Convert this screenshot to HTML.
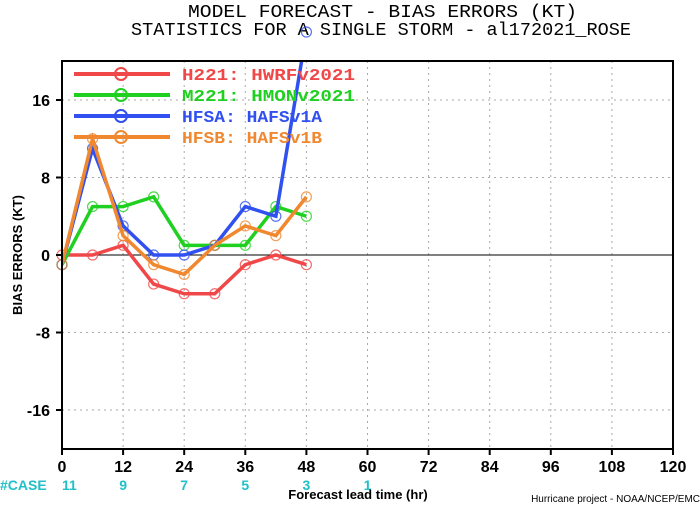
<!DOCTYPE html>
<html><head><meta charset="utf-8"><style>
body{margin:0;background:#fff;}
svg text{font-family:"Liberation Sans",sans-serif;font-weight:bold;}
</style></head><body>
<svg width="700" height="506" xmlns="http://www.w3.org/2000/svg">
<text x="188" y="17" font-size="18" textLength="389" lengthAdjust="spacingAndGlyphs" style="font-weight:normal;font-family:'Liberation Mono',monospace">MODEL FORECAST - BIAS ERRORS (KT)</text>
<text x="131" y="35" font-size="18" textLength="500" lengthAdjust="spacingAndGlyphs" style="font-weight:normal;font-family:'Liberation Mono',monospace">STATISTICS FOR A SINGLE STORM - al172021_ROSE</text>
<g id="grid"></g>
<line x1="62" y1="255" x2="673" y2="255" stroke="#000" stroke-width="1"/>
<g id="series"></g>
<rect x="62" y="61" width="611" height="388" fill="none" stroke="#000" stroke-width="2"/>
<g id="axes"></g>
<g id="legend"></g>
<text x="22" y="255" font-size="13" text-anchor="middle" transform="rotate(-90 22 255)">BIAS ERRORS (KT)</text>
<text x="358" y="499" font-size="13" text-anchor="middle">Forecast lead time (hr)</text>
<text x="700" y="502" font-size="10" text-anchor="end" style="font-weight:normal">Hurricane project - NOAA/NCEP/EMC</text>
</svg>
<script>
const leadHours=[0,6,12,18,24,30,36,42,48];
const h221=[0,0,1,-3,-4,-4,-1,0,-1];
const m221=[-1,5,5,6,1,1,1,5,4];
const hfsa=[-1,11,3,0,0,1,5,4,23];
const hfsb=[-1,12,2,-1,-2,1,3,2,6];
const xTicks=[0,12,24,36,48,60,72,84,96,108,120];
const yTicks=[-16,-8,0,8,16];
const caseHours=[0,12,24,36,48,60];
const caseCounts=[11,9,7,5,3,1];
const seriesNames=["H221: HWRFv2021","M221: HMONv2021","HFSA: HAFSv1A","HFSB: HAFSv1B"];
const NS="http://www.w3.org/2000/svg";
const xs=v=>62+v*(611/120);
const ys=v=>255-v*(193.75/20);
function mk(tag,attrs,parent){const e=document.createElementNS(NS,tag);for(const k in attrs)e.setAttribute(k,attrs[k]);parent.appendChild(e);return e;}
const grid=document.getElementById('grid'),axes=document.getElementById('axes'),ser=document.getElementById('series'),leg=document.getElementById('legend');
xTicks.forEach(t=>{
  if(t>0&&t<120){const g=mk('line',{x1:xs(t),x2:xs(t),y1:61,y2:449,stroke:'#aaa','stroke-dasharray':'2,4'},grid);
  
  }
  const tk=mk('line',{x1:xs(t),x2:xs(t),y1:449,y2:455,stroke:'#000','stroke-width':2},axes);
  
  
  const l=mk('text',{x:xs(t),y:472,'font-size':16,'text-anchor':'middle'},axes);l.textContent=t;
  
  
});
yTicks.forEach(t=>{
  if(t!==0){const g=mk('line',{x1:62,x2:673,y1:ys(t),y2:ys(t),stroke:'#aaa','stroke-dasharray':'2,4'},grid);
  
  }
  const tk=mk('line',{x1:56,x2:62,y1:ys(t),y2:ys(t),stroke:'#000','stroke-width':2},axes);
  
  
  const l=mk('text',{x:50,y:ys(t)+6,'font-size':16,'text-anchor':'end'},axes);l.textContent=t;
  
  
});
const cl=mk('text',{x:0,y:490,'font-size':14,fill:'#20c0c8'},axes);cl.textContent='#CASE';


caseHours.forEach((h,i)=>{
  const t=mk('text',{x:h===0?62:xs(h),y:490,'font-size':14,fill:'#20c0c8','text-anchor':h===0?'start':'middle'},axes);
  t.textContent=caseCounts[i];
  
  
});
const defs=mk('defs',{},ser);const cp=mk('clipPath',{id:'clip'},defs);mk('rect',{x:62,y:61,width:611,height:388},cp);
const all=[[h221,'#f04848'],[m221,'#20d020'],[hfsa,'#3050f0'],[hfsb,'#f08830']];
const legW=[173,173,140,140];
all.forEach(([d,c],si)=>{
  const g=mk('g',{},ser);
  
  
  const p=mk('polyline',{points:d.map((v,i)=>xs(leadHours[i])+','+ys(v)).join(' '),fill:'none',stroke:c,'stroke-width':3.5,'clip-path':'url(#clip)'},g);
  
  
  d.forEach((v,i)=>{
    let y=ys(v);if(y<61)y=32;
    const ci=mk('circle',{cx:xs(leadHours[i]),cy:y,r:5,fill:'none',stroke:c,'stroke-width':1.2,opacity:0.8},g);
    
    
  });
  const ly=74+si*21;
  const ll=mk('line',{x1:74,x2:170,y1:ly,y2:ly,stroke:c,'stroke-width':4},leg);
  
  
  mk('circle',{cx:121,cy:ly,r:6,fill:'none',stroke:c,'stroke-width':2},leg);
  const lt=mk('text',{x:182,y:ly+6,'font-size':17,fill:c,textLength:legW[si],lengthAdjust:'spacingAndGlyphs',style:"font-family:'Liberation Mono',monospace"},leg);lt.textContent=seriesNames[si];
  
  
});
</script>
</body></html>
